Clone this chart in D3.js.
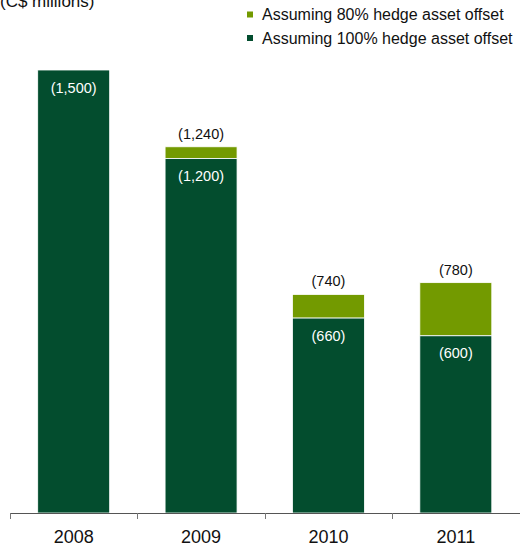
<!DOCTYPE html>
<html>
<head>
<meta charset="utf-8">
<script src="https://cdn.jsdelivr.net/npm/d3@7"></script>
<style>
  html, body { margin: 0; padding: 0; background: #fff; }
  svg { display: block; font-family: "Liberation Sans", Arial, sans-serif; }
</style>
</head>
<body>
<svg id="chart" width="520" height="546"></svg>
<script>
// Pension hedge exposure by year (C$ millions)
const years = ["2008", "2009", "2010", "2011"];
const full = [1500, 1200, 660, 600];       // assuming 100% hedge asset offset
const partial = [1500, 1240, 740, 780];    // assuming 80% hedge asset offset (total)
const legendLabels = ["Assuming 80% hedge asset offset", "Assuming 100% hedge asset offset"];

const darkGreen = "#034d2e";
const oliveGreen = "#739a00";

const svg = d3.select("#chart");
const baseY = 513;

const x = d3.scaleBand().domain(years).range([10, 519.5]).paddingInner(0.435).paddingOuter(0.2175);
const y = d3.scaleLinear().domain([0, 1500]).range([baseY, 70]);

const fmt = v => "(" + d3.format(",")(v) + ")";

const g = svg.append("g");
years.forEach((yr, i) => {
  // upper segment: extra exposure at 80% offset
  if (partial[i] > full[i]) {
    g.append("rect")
      .attr("x", x(yr)).attr("width", x.bandwidth())
      .attr("y", y(partial[i])).attr("height", y(full[i]) - y(partial[i]))
      .attr("fill", oliveGreen).attr("stroke", "#fff").attr("stroke-width", 0.8);
  }
  g.append("rect")
    .attr("x", x(yr)).attr("width", x.bandwidth())
    .attr("y", y(full[i])).attr("height", baseY - y(full[i]))
    .attr("fill", darkGreen).attr("stroke", "#fff").attr("stroke-width", 0.8);

  // value inside the dark segment
  g.append("text")
    .attr("x", x(yr) + x.bandwidth() / 2).attr("y", y(full[i]) + 22.5)
    .attr("text-anchor", "middle").attr("fill", "#fff").attr("font-size", 14.5)
    .text(fmt(full[i]));

  // total above the bar
  if (partial[i] > full[i]) {
    g.append("text")
      .attr("x", x(yr) + x.bandwidth() / 2).attr("y", y(partial[i]) - 8)
      .attr("text-anchor", "middle").attr("fill", "#111").attr("font-size", 14.5)
      .text(fmt(partial[i]));
  }
});

// Category axis with ticks on band boundaries
svg.append("line")
  .attr("x1", 10).attr("x2", 520).attr("y1", baseY + 0.5).attr("y2", baseY + 0.5)
  .attr("stroke", "#555").attr("stroke-width", 1);
const bounds = years.map(yr => x(yr) - x.step() * x.paddingInner() / 2).concat([519.5]);
svg.selectAll(".tick").data(bounds).enter().append("line")
  .attr("x1", d => Math.round(d) + 0.5).attr("x2", d => Math.round(d) + 0.5)
  .attr("y1", baseY).attr("y2", baseY + 6)
  .attr("stroke", "#777").attr("stroke-width", 1);
svg.selectAll(".xlab").data(years).enter().append("text")
  .attr("x", d => x(d) + x.bandwidth() / 2).attr("y", 542.5)
  .attr("text-anchor", "middle").attr("font-size", 18).attr("fill", "#111")
  .text(d => d);

// Unit title
svg.append("text").attr("x", 0).attr("y", 7).attr("font-size", 17).attr("fill", "#111")
  .text("(C$ millions)");

// Legend
const legendColors = [oliveGreen, darkGreen];
legendLabels.forEach((lab, i) => {
  const ly = 14.5 + i * 23.5;
  svg.append("rect").attr("x", 247).attr("y", ly - 3).attr("width", 6).attr("height", 6)
    .attr("fill", legendColors[i]);
  svg.append("text").attr("x", 262).attr("y", ly + 5.5).attr("font-size", 16).attr("fill", "#111")
    .text(lab);
});
</script>
</body>
</html>
